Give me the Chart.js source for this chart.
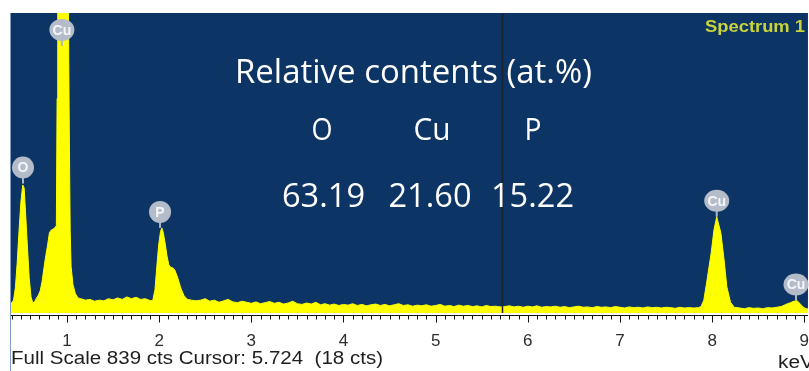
<!DOCTYPE html>
<html>
<head>
<meta charset="utf-8">
<script src="https://cdn.jsdelivr.net/npm/chart.js@4.4.1/dist/chart.umd.min.js"></script>
<style>
html, body { margin: 0; padding: 0; background: #fff; }
#wrap { width: 809px; height: 371px; }
</style>
</head>
<body>
<div id="wrap"><canvas id="spec" width="809" height="371"></canvas></div>
<script>
// EDS spectrum (keV / counts)
const energy = [
    0.38, 0.40, 0.42, 0.44, 0.46, 0.48, 0.50, 0.52, 0.535, 0.55, 0.57, 0.59, 0.61, 0.63, 0.65,
    0.67, 0.69, 0.71, 0.73, 0.75, 0.77, 0.79, 0.81, 0.83, 0.86, 0.885, 0.893, 0.90, 0.92, 0.95, 0.98, 1.00, 1.015, 1.025, 1.035, 1.045, 1.065, 1.09, 1.12,
    1.15, 1.20, 1.25, 1.30, 1.35, 1.40, 1.45, 1.50, 1.55, 1.60, 1.65, 1.70, 1.75, 1.80, 1.85, 1.90,
    1.93, 1.955, 1.975, 1.995, 2.015, 2.03, 2.045, 2.065, 2.085, 2.105, 2.125, 2.15, 2.17, 2.20, 2.235, 2.27, 2.31,
    2.35, 2.40, 2.45, 2.50, 2.55, 2.60, 2.65, 2.70, 2.75, 2.80, 2.85, 2.90, 2.95, 3.00, 3.05, 3.10, 3.15, 3.20, 3.25, 3.30,
    3.35, 3.40, 3.45, 3.50, 3.55, 3.60, 3.65, 3.70, 3.75, 3.80, 3.85, 3.90, 3.95, 4.00, 4.05, 4.10, 4.15, 4.20, 4.25, 4.30,
    4.35, 4.40, 4.45, 4.50, 4.55, 4.60, 4.65, 4.70, 4.75, 4.80, 4.85, 4.90, 4.95, 5.00, 5.05, 5.10, 5.15, 5.20, 5.25, 5.30,
    5.35, 5.40, 5.45, 5.50, 5.55, 5.60, 5.65, 5.70, 5.75, 5.80, 5.85, 5.90, 5.95, 6.00, 6.05, 6.10, 6.15, 6.20, 6.25, 6.30,
    6.35, 6.40, 6.45, 6.50, 6.55, 6.60, 6.65, 6.70, 6.75, 6.80, 6.85, 6.90, 6.95, 7.00, 7.05, 7.10, 7.15, 7.20, 7.25, 7.30,
    7.35, 7.40, 7.45, 7.50, 7.55, 7.60, 7.65, 7.70, 7.75, 7.80, 7.85,
    7.88, 7.91, 7.945, 7.99, 8.02, 8.05, 8.095, 8.13, 8.16, 8.20, 8.24,
    8.30, 8.35, 8.40, 8.45, 8.50, 8.55, 8.60, 8.65, 8.70, 8.75, 8.80, 8.85, 8.89, 8.92, 8.95, 8.99, 9.02, 9.05
];
const counts = [
    30, 28, 36, 70, 140, 230, 310, 358, 350, 285, 190, 100, 45, 28, 32,
    42, 50, 62, 88, 125, 160, 190, 225, 232, 236, 244, 600, 950, 1150, 1300, 1250, 1100, 880, 520, 230, 130, 80, 55, 42,
    40, 36, 38, 33, 36, 34, 40, 37, 42, 38, 45, 40, 44, 38, 40, 35,
    34, 65, 130, 190, 228, 238, 225, 195, 160, 135, 128, 126, 120, 100, 70, 48, 38,
    36, 34, 36, 40, 33, 36, 30, 34, 38, 31, 29, 33, 30, 27, 31, 26, 29, 32, 27, 30,
    25, 28, 33, 26, 24, 28, 25, 30, 23, 26, 22, 25, 21, 24, 22, 26, 21, 24, 20, 23,
    25, 21, 24, 20, 23, 26, 21, 23, 19, 22, 20, 23, 19, 21, 24, 19, 21, 18, 22, 19,
    21, 18, 20, 17, 21, 18, 19, 17, 18, 20, 17, 19, 16, 19, 17, 20, 16, 18, 17, 19,
    16, 18, 15, 17, 19, 16, 17, 15, 18, 16, 17, 15, 18, 16, 14, 17, 15, 16, 14, 17,
    15, 16, 14, 16, 15, 13, 16, 14, 15, 14, 15,
    18, 36, 92, 168, 232, 269, 224, 148, 73, 30, 16,
    14, 12, 15, 13, 14, 12, 15, 14, 16, 18, 24, 29, 33, 35, 27, 16, 12, 11
];

// peak markers
const peakNames = ['O', 'Cu', 'P', 'Cu', 'Cu'];
const peakKeV = [0.523, 0.945, 2.01, 8.05, 8.91];
const peakCounts = [362, 747, 238, 269, 35];

// quantification
const contentElements = ['O', 'Cu', 'P'];
const contentValues = [63.19, 21.60, 15.22];

const xTicks = [1, 2, 3, 4, 5, 6, 7, 8, 9];
const fullScale = 839;
const cursorKeV = 5.724;
const cursorCounts = 18;

function fitText(ctx, str, left, baseline, font, width) {
    ctx.font = font;
    const w = ctx.measureText(str).width;
    ctx.save();
    ctx.translate(left, baseline);
    ctx.scale(width / w, 1);
    ctx.fillText(str, 0, 0);
    ctx.restore();
}

const spectrumDeco = {
    id: 'spectrumDeco',
    beforeDraw(chart) {
        const { ctx, chartArea: a } = chart;
        ctx.save();
        ctx.fillStyle = '#0c3464';
        ctx.fillRect(a.left, a.top, a.right - a.left, a.bottom - a.top);
        ctx.restore();
    },
    afterDatasetsDraw(chart) {
        const { ctx, chartArea: a, scales } = chart;
        const x = scales.x, y = scales.y;
        ctx.save();

        // cursor line
        const cx = Math.round(x.getPixelForValue(cursorKeV)) + 0.5;
        ctx.strokeStyle = '#1a2230';
        ctx.lineWidth = 1.5;
        ctx.beginPath();
        ctx.moveTo(cx, a.top);
        ctx.lineTo(cx, a.bottom);
        ctx.stroke();

        // axis line + minor/major ticks
        const ay = a.bottom + 2.5;
        ctx.strokeStyle = '#111';
        ctx.lineWidth = 1;
        ctx.beginPath();
        ctx.moveTo(a.left, ay);
        ctx.lineTo(a.right, ay);
        for (let k = 3; k <= 91; k++) {
            const v = k / 10;
            if (v < x.min || v > x.max) continue;
            const px = Math.round(x.getPixelForValue(v)) + 0.5;
            ctx.moveTo(px, ay);
            ctx.lineTo(px, ay + (k % 10 === 0 ? 7 : 4));
        }
        ctx.stroke();

        // thin left frame line
        ctx.strokeStyle = '#7f9cc4';
        ctx.beginPath();
        ctx.moveTo(a.left + 0.5, a.top);
        ctx.lineTo(a.left + 0.5, chart.height);
        ctx.stroke();

        // peak labels
        peakNames.forEach((name, i) => {
            const px = x.getPixelForValue(peakKeV[i]);
            const py = y.getPixelForValue(peakCounts[i]);
            const cy = py - 16;
            ctx.strokeStyle = '#aeb6c4';
            ctx.lineWidth = 2;
            ctx.beginPath();
            ctx.moveTo(px, cy + 8);
            ctx.lineTo(px, py);
            ctx.stroke();
            ctx.fillStyle = '#b4bcc9';
            ctx.beginPath();
            ctx.ellipse(px, cy, name.length > 1 ? 12.5 : 11, 11, 0, 0, Math.PI * 2);
            ctx.fill();
            ctx.fillStyle = '#f4f6fa';
            ctx.font = 'bold 14px "Liberation Sans"';
            ctx.textAlign = 'center';
            ctx.textBaseline = 'middle';
            ctx.fillText(name, px, cy + 1);
        });

        // relative contents overlay
        ctx.fillStyle = '#ffffff';
        ctx.textAlign = 'left';
        ctx.textBaseline = 'alphabetic';
        fitText(ctx, 'Relative contents (at.%)', 235, 83, '32px "Open Sans"', 357);
        const elemCenters = [322, 432, 533];
        const elemWidths = [21, 37, 17];
        contentElements.forEach((el, i) => {
            fitText(ctx, el, elemCenters[i] - elemWidths[i] / 2, 140, '31px "Open Sans"', elemWidths[i]);
        });
        const valCenters = [323.5, 430, 532.5];
        contentValues.forEach((v, i) => {
            fitText(ctx, v.toFixed(2), valCenters[i] - 41.5, 207, '33px "Open Sans"', 83);
        });

        // spectrum title
        ctx.fillStyle = '#c8d43a';
        fitText(ctx, 'Spectrum 1', 705, 32, 'bold 17px "Liberation Sans"', 100);

        // footer
        ctx.fillStyle = '#1e1e1e';
        fitText(ctx, 'Full Scale ' + fullScale + ' cts Cursor: ' + cursorKeV.toFixed(3) + '  (' + cursorCounts + ' cts)',
            11, 364, '18px "Liberation Sans"', 372);
        fitText(ctx, 'keV', 778, 368, '18px "Liberation Sans"', 36);

        ctx.restore();
    }
};

const ctx = document.getElementById('spec').getContext('2d');
new Chart(ctx, {
    type: 'line',
    data: {
        datasets: [{
            label: 'Spectrum 1',
            data: energy.map((e, i) => ({ x: e, y: counts[i] })),
            borderColor: '#ffff00',
            backgroundColor: '#ffff00',
            borderWidth: 1,
            pointRadius: 0,
            tension: 0,
            fill: 'origin'
        }]
    },
    options: {
        responsive: false,
        animation: false,
        events: [],
        layout: { padding: { top: 13, left: 10, right: 0, bottom: 0 }, autoPadding: false },
        plugins: {
            legend: { display: false },
            tooltip: { enabled: false }
        },
        scales: {
            x: {
                type: 'linear',
                min: 0.382,
                max: 9.04,
                afterFit(scale) { scale.height = 58; },
                afterBuildTicks(scale) { scale.ticks = xTicks.map(v => ({ value: v })); },
                grid: { display: false, drawTicks: true, tickLength: 18 },
                border: { display: false },
                ticks: {
                    padding: 0,
                    maxRotation: 0,
                    autoSkip: false,
                    color: '#2e2e2e',
                    font: { family: 'Liberation Sans', size: 17 }
                }
            },
            y: {
                display: false,
                min: 0,
                max: fullScale
            }
        }
    },
    plugins: [spectrumDeco]
});
</script>
</body>
</html>
